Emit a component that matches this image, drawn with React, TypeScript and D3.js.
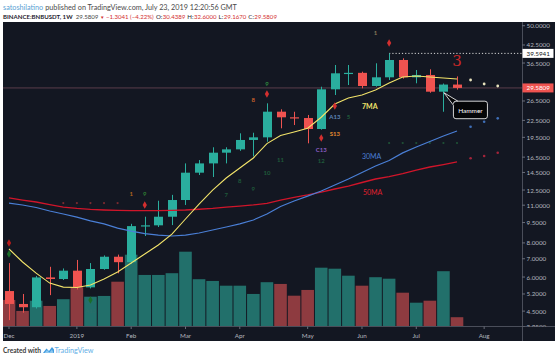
import React, { useLayoutEffect, useRef } from "react";
import * as d3 from "d3";

// ---------- DATA (weekly BNBUSDT, Dec 3 2018 .. Jul 22 2019) ----------
const opens = [5.33, 4.78, 4.65, 5.98, 5.9, 6.33, 5.5, 6.42, 7.12, 6.8, 9.22, 9.28, 9.98, 11.49, 14.47, 15.65, 17.13, 17.62, 19.07, 19.5, 24.21, 23.09, 22.95, 20.92, 29.24, 33.47, 33.6, 30.07, 32.36, 37.45, 32.36, 33.0, 28.66, 30.4389];
const highs = [6.75, 5.2, 6.05, 6.54, 6.45, 6.93, 6.75, 7.2, 7.25, 9.4, 9.98, 11.42, 12.0, 15.65, 16.1, 17.93, 17.93, 20.17, 20.27, 25.98, 24.7, 24.2, 23.55, 29.89, 35.9, 35.9, 33.93, 36.42, 39.5941, 37.99, 34.42, 34.62, 30.7, 32.6];
const lows = [4.17, 4.44, 4.6, 5.15, 5.85, 5.4, 5.45, 6.38, 6.19, 6.7, 8.48, 9.15, 9.3, 11.02, 14.19, 13.95, 15.65, 17.4, 16.6, 18.79, 21.04, 21.63, 18.54, 20.8, 27.87, 30.32, 29.49, 29.9, 31.63, 32.0, 30.76, 28.4, 24.2, 29.167];
const closes = [4.78, 4.65, 5.98, 5.9, 6.33, 5.5, 6.42, 7.12, 6.8, 9.22, 9.28, 9.98, 11.49, 14.47, 15.65, 17.13, 17.62, 19.07, 19.5, 24.21, 23.09, 22.95, 20.92, 29.24, 33.47, 33.6, 30.07, 32.36, 37.45, 32.36, 33.0, 28.66, 30.4389, 29.5809];
const volumes = [10.7, 6.3, 10.4, 8.3, 11.0, 15.8, 12.0, 12.3, 18.0, 28.8, 20.7, 20.7, 21.4, 30.0, 19.0, 18.3, 16.4, 16.4, 13.1, 17.8, 17.1, 12.4, 14.7, 23.6, 23.2, 20.4, 16.4, 19.8, 19.2, 13.6, 9.6, 10.4, 22.2, 3.8];
const ma7 = [7.6, 6.81, 6.2, 5.7, 5.51, 5.49, 5.61, 5.9, 6.26, 6.75, 7.29, 7.86, 8.62, 9.79, 11.11, 12.5, 13.83, 15.05, 16.38, 18.5, 19.8, 20.4, 21.05, 23.1, 25.83, 27.17, 27.87, 29.07, 30.84, 32.44, 32.72, 32.44, 32.17, 31.9];
const ma30 = [11.2, 11.02, 10.79, 10.47, 10.21, 9.95, 9.63, 9.39, 9.07, 8.84, 8.66, 8.55, 8.48, 8.55, 8.7, 8.92, 9.15, 9.39, 9.71, 10.21, 10.88, 11.39, 11.88, 12.4, 13.04, 13.72, 14.49, 15.31, 16.04, 17.1, 17.97, 18.82, 19.72, 20.57];
const ma50 = [11.69, 11.49, 11.3, 11.06, 10.83, 10.7, 10.61, 10.56, 10.52, 10.5, 10.5, 10.5, 10.52, 10.56, 10.63, 10.7, 10.83, 10.92, 11.02, 11.16, 11.49, 11.74, 11.99, 12.29, 12.61, 12.93, 13.32, 13.72, 14.01, 14.37, 14.8, 15.18, 15.5, 15.84];
const projIdx = [34, 35, 36];
const proj7 = [31.63, 30.58, 30.07];
const proj30 = [21.33, 22.25, 22.89];
const proj50 = [16.34, 16.66, 17.13];

const timeLabels = ["Dec", "2019", "Feb", "Mar", "Apr", "May", "Jun", "Jul", "Aug"];
const timeLabelIdx = [0, 5, 9, 13, 17, 22, 26, 30, 35];
const priceTicks = [50, 42.5, 36.5, 26.5, 22.5, 19.5, 16.5, 14.5, 12.5, 11, 9.5, 8, 7, 6, 5.2, 4.5, 3.95];
const highMark = 39.5941;
const lastClose = 29.5809;

type Note = { i: number; p: number; t: string; c: string; s?: number };
const notes: Note[] = [
  { i: 19, p: 30.84, t: "9", c: "#2e8b3e" },
  { i: 18, p: 26.72, t: "8", c: "#c8602a" },
  { i: 27, p: 47.4, t: "1", c: "#8a7a5a" },
  { i: 24, p: 23.15, t: "A13", c: "#5f86b8" },
  { i: 24, p: 20.2, t: "S13", c: "#e08a2e" },
  { i: 23, p: 17.67, t: "C13", c: "#8d5fc4" },
  { i: 23, p: 16.1, t: "12", c: "#1f5a3a" },
  { i: 20, p: 16.2, t: "11", c: "#1f5a3a" },
  { i: 19, p: 14.47, t: "10", c: "#1f5a3a" },
  { i: 18, p: 12.71, t: "9", c: "#1f5a3a" },
  { i: 17, p: 13.6, t: "8", c: "#1f5a3a" },
  { i: 16, p: 11.99, t: "7", c: "#1f5a3a" },
  { i: 25, p: 23.15, t: "5", c: "#1f5a3a" },
  { i: 6, p: 4.54, t: "A13", c: "#2a6f6a" },
  { i: 10, p: 12.09, t: "9", c: "#2e7d32" },
  { i: 9, p: 12.1, t: "1", c: "#b5651d" },
  { i: 33, p: 37.0, t: "3", c: "#c62828", s: 15 },
];
const diamonds = [
  { i: 19, p: 28.1, c: "#d32f2f" },
  { i: 28, p: 43.2, c: "#d32f2f" },
  { i: 24, p: 25.4, c: "#d32f2f" },
  { i: 23, p: 19.39, c: "#d32f2f" },
  { i: 10, p: 11.02, c: "#d32f2f" },
  { i: 0, p: 7.99, c: "#b71c1c" },
  { i: 0, p: 7.29, c: "#1b6e2a" },
  { i: 6, p: 4.94, c: "#1b6e2a" },
];
const setupDotIdx = [28, 29, 30, 31, 32, 33];
const setupDotPrice = 18.59;
const redDotIdx = [4, 5, 6, 7, 8];
const redDotPrice = 11.2;

// ---------- STYLE ----------
const BG = "#131722";
const UP = "#2aae9e";
const DN = "#ef5350";
const VUP = "#22706b";
const VDN = "#8e3b40";
const AX = "#b2b5be";
const FONT = "Lato, 'Open Sans', sans-serif";
const RED = "#d32f2f";
const DK = "#1e222d";

type Piece = { t: string; c: string; w?: number; gap: number; s?: number };
const line1: Piece[] = [
  { t: "satoshilatino", c: "#5a9fd4", gap: 2 },
  { t: "published on TradingView.com, July 23, 2019 12:20:56 GMT", c: "#4a4a4a", gap: 0 },
];
const line2: Piece[] = [
  { t: "BINANCE:BNBUSDT, 1W", c: DK, w: 700, gap: 3 },
  { t: "29.5809", c: "#444", gap: 1.5 },
  { t: "▼", c: RED, gap: 1.5, s: 0.75 },
  { t: "−1.3041 (−4.22%)", c: RED, gap: 2 },
  { t: "O:", c: DK, gap: 0.4 },
  { t: "30.4389", c: RED, gap: 2 },
  { t: "H:", c: DK, gap: 0.4 },
  { t: "32.6000", c: RED, gap: 2 },
  { t: "L:", c: DK, gap: 0.4 },
  { t: "29.1670", c: RED, gap: 2 },
  { t: "C:", c: DK, gap: 0.4 },
  { t: "29.5809", c: RED, gap: 0 },
];

function FitLine({ pieces, x0, y0, width, base }: { pieces: Piece[]; x0: number; y0: number; width: number; base: number }) {
  const ref = useRef<SVGGElement>(null);
  useLayoutEffect(() => {
    const g = ref.current;
    if (!g) return;
    const els = Array.from(g.querySelectorAll("text")) as SVGTextElement[];
    els.forEach((el, k) => el.setAttribute("font-size", String(base * (pieces[k].s || 1))));
    const ws = els.map((el) => el.getComputedTextLength());
    const gaps = pieces.reduce((a, p) => a + p.gap, 0);
    const total = ws.reduce((a, b) => a + b, 0);
    const k = Math.min(1.2, (width - gaps) / total);
    let cx = x0;
    els.forEach((el, i) => {
      el.setAttribute("font-size", String(base * k * (pieces[i].s || 1)));
      el.setAttribute("x", String(cx));
      cx += ws[i] * k + pieces[i].gap;
    });
  }, []);
  return (
    <g ref={ref}>
      {pieces.map((p, i) => (
        <text key={i} x={x0} y={y0} fill={p.c} fontWeight={p.w || 400} fontSize={base}>
          {p.t}
        </text>
      ))}
    </g>
  );
}

export default function App() {
  const L = 3, R = 522, T = 22, B = 326.5, FR = 555, AB = 341;
  const x = d3.scaleLinear().domain([0, 33]).range([9, 457]);
  const y = d3.scaleLog().domain([3.969, 51.6]).range([326, 22]);
  const v = d3.scaleLinear().domain([0, 40]).range([326.7, 226.7]);
  const line = d3
    .line<number>()
    .x((_, i) => x(i))
    .y((d) => y(d));
  const diamond = d3.symbol(d3.symbolDiamond, 16)() || "";

  const yLast = y(lastClose);
  const yHigh = y(highMark);
  const hx = x(32), hy = y(closes[31]);

  return (
    <svg width={555} height={360} style={{ display: "block", fontFamily: FONT }}>
      <style>{`body{margin:0}`}</style>
      <defs>
        <clipPath id="plot">
          <rect x={L} y={T} width={R - L} height={B - T} />
        </clipPath>
        <clipPath id="pax">
          <rect x={R} y={T} width={FR - R} height={B - T} />
        </clipPath>
      </defs>
      <rect x={0} y={0} width={555} height={360} fill="#ffffff" />

      {/* header */}
      <FitLine pieces={line1} x0={3} y0={9.5} width={234} base={7.5} />
      <FitLine pieces={line2} x0={3} y0={18.5} width={274} base={7} />

      {/* chart background */}
      <rect x={L} y={T} width={FR - L} height={AB - T} fill={BG} />

      <g clipPath="url(#plot)">
        {/* current price line */}
        <line x1={L} x2={R} y1={yLast} y2={yLast} stroke="#5a3d4a" strokeWidth={1} />
        {/* high dotted line */}
        <line x1={x(28)} x2={R} y1={yHigh} y2={yHigh} stroke="#d8d8d8" strokeWidth={1} strokeDasharray="1.2,2" />

        {/* volume */}
        {volumes.map((vol, i) => (
          <rect
            key={"v" + i}
            x={x(i) - 6.3}
            width={12.6}
            y={v(vol)}
            height={v(0) - v(vol)}
            fill={closes[i] >= opens[i] ? VUP : VDN}
          />
        ))}

        {/* dots */}
        {setupDotIdx.map((i) => (
          <circle key={"sd" + i} cx={x(i)} cy={y(setupDotPrice)} r={1.1} fill="#1f5236" />
        ))}
        {redDotIdx.map((i) => (
          <circle key={"rd" + i} cx={x(i)} cy={y(redDotPrice)} r={1.1} fill="#7a2a30" />
        ))}

        {/* candles */}
        {opens.map((o, i) => {
          const c = closes[i];
          const col = c >= o ? UP : DN;
          const yT = y(Math.max(o, c));
          const yB = y(Math.min(o, c));
          const cx = Math.round(x(i)) + 0.5;
          return (
            <g key={"c" + i}>
              <line x1={cx} x2={cx} y1={y(highs[i])} y2={y(lows[i])} stroke={col} strokeWidth={1} />
              <rect x={cx - 4.5} width={9} y={yT} height={Math.max(1.2, yB - yT)} fill={col} />
            </g>
          );
        })}

        {/* moving averages */}
        <path d={line(ma50) || ""} fill="none" stroke="#d0152a" strokeWidth={1.3} />
        <path d={line(ma30) || ""} fill="none" stroke="#4a7fd6" strokeWidth={1.2} />
        <path d={line(ma7) || ""} fill="none" stroke="#f2e36a" strokeWidth={1.1} />

        {/* projections */}
        {projIdx.map((i, k) => (
          <g key={"p" + i}>
            <circle cx={x(i)} cy={y(proj7[k])} r={1.4} fill="#e8e3bd" />
            <circle cx={x(i)} cy={y(proj30[k])} r={1.3} fill="#3f6fb8" />
            <circle cx={x(i)} cy={y(proj50[k])} r={1.3} fill="#a3243a" />
          </g>
        ))}

        {/* markers */}
        {diamonds.map((d, k) => (
          <path key={"dm" + k} d={diamond} transform={`translate(${x(d.i)},${y(d.p)})`} fill={d.c} />
        ))}
        {notes.map((n, k) => (
          <text
            key={"n" + k}
            x={x(n.i)}
            y={y(n.p)}
            fontSize={n.s || 6}
            fontWeight={n.s ? 400 : 700}
            fontFamily={n.s ? "'DejaVu Serif', serif" : FONT}
            fill={n.c}
            textAnchor="middle"
            dominantBaseline="central"
          >
            {n.t}
          </text>
        ))}

        {/* MA labels */}
        <text x={x(26)} y={y(25.4)} fontSize={7} fontWeight={700} fill="#f2e36a" dominantBaseline="central">7MA</text>
        <text x={x(26)} y={y(16.66)} fontSize={7} fill="#4a7fd6" dominantBaseline="central">30MA</text>
        <text x={x(26) + 1} y={y(12.29)} fontSize={7} fill="#e0202e" dominantBaseline="central">50MA</text>

        {/* Hammer callout */}
        <path
          d={`M ${hx + 10} ${hy + 12} Q ${hx + 10} ${hy + 9.5} ${hx + 12.5} ${hy + 9.5} L ${hx + 14.5} ${hy + 9.5} L ${hx + 0.5} ${hy + 1} L ${hx + 10} ${hy + 13.5} L ${hx + 10} ${hy + 24.5} Q ${hx + 10} ${hy + 27} ${hx + 12.5} ${hy + 27} L ${hx + 41.5} ${hy + 27} Q ${hx + 44} ${hy + 27} ${hx + 44} ${hy + 24.5} L ${hx + 44} ${hy + 12} Q ${hx + 44} ${hy + 9.5} ${hx + 41.5} ${hy + 9.5} L ${hx + 14.5} ${hy + 9.5}`}
          fill="#050608"
          stroke="#e8e8e8"
          strokeWidth={0.9}
          strokeLinejoin="round"
        />
        <text x={hx + 27} y={hy + 18.5} fontSize={6.5} fill="#ffffff" textAnchor="middle" dominantBaseline="central">Hammer</text>
      </g>

      {/* axes borders */}
      <line x1={L} x2={FR} y1={B} y2={B} stroke="#4a4e5a" strokeWidth={1} />
      <line x1={R + 0.5} x2={R + 0.5} y1={T} y2={AB} stroke="#4a4e5a" strokeWidth={1} />

      {/* price axis */}
      <g clipPath="url(#pax)">
        {priceTicks.map((p) => (
          <g key={"pt" + p}>
            <line x1={R} x2={R + 3} y1={y(p)} y2={y(p)} stroke="#6a6e7a" />
            <text x={526.5} y={y(p)} fontSize={6.3} fill={AX} dominantBaseline="central">{p.toFixed(4)}</text>
          </g>
        ))}
      </g>
      <rect x={R + 0.5} y={yHigh - 4.5} width={31} height={9} fill="#ffffff" />
      <text x={526.5} y={yHigh} fontSize={6.3} fill="#131722" dominantBaseline="central">{highMark.toFixed(4)}</text>
      <rect x={R + 0.5} y={yLast - 4.5} width={31} height={9} fill="#ef5350" />
      <text x={526.5} y={yLast} fontSize={6.3} fill="#ffffff" dominantBaseline="central">{lastClose.toFixed(4)}</text>

      {/* time axis */}
      {timeLabels.map((t, k) => (
        <g key={"tl" + t}>
          <line x1={x(timeLabelIdx[k])} x2={x(timeLabelIdx[k])} y1={B} y2={B + 2.5} stroke="#6a6e7a" />
          <text x={x(timeLabelIdx[k])} y={335} fontSize={6.3} fill={AX} textAnchor="middle" dominantBaseline="central">{t}</text>
        </g>
      ))}

      {/* footer */}
      <text x={3} y={353} fontSize={7.5} fontWeight={700} fill="#3a3a3a" textLength={38} lengthAdjust="spacingAndGlyphs">Created with</text>
      <g transform="translate(43,346)">
        <path d="M0 7 L3.5 2.5 L6 5 L9 1 L11 3.5 L11 7 Z" fill="#3d9be0" />
        <path d="M1.5 7 L4 4 L6.5 6.5 L9 3.5 L10.5 7 Z" fill="#8fc8f0" />
      </g>
      <text x={54.5} y={353} fontSize={7.5} fill="#62aee6" textLength={39} lengthAdjust="spacingAndGlyphs">TradingView</text>
    </svg>
  );
}
